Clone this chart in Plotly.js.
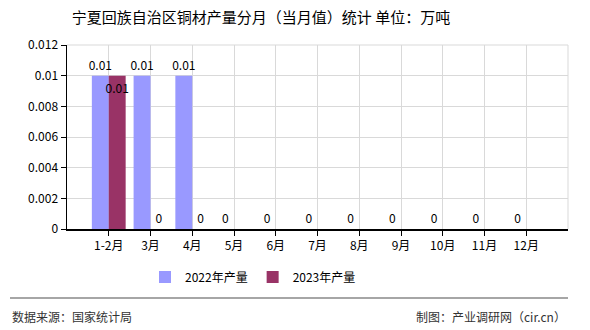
<!DOCTYPE html>
<html><head><meta charset="utf-8">
<script src="https://cdn.plot.ly/plotly-3.0.1.min.js"></script>
<style>html,body{margin:0;padding:0;background:#fff}#c{width:590px;height:330px}</style>
</head><body><div id="c"></div>
<script>
const categories = ['1-2月','3月','4月','5月','6月','7月','8月','9月','10月','11月','12月'];
const seriesNames = ['2022年产量','2023年产量'];
const values2022 = [0.01,0.01,0.01,0,0,0,0,0,0,0,0];
const values2023 = [0.01,0,0,null,null,null,null,null,null,null,null];
const yTicks = [0,0.002,0.004,0.006,0.008,0.01,0.012];
const yTickText = ['0','0.002','0.004','0.006','0.008','0.01','0.012'];

const F = '"Noto Sans CJK SC", "DejaVu Sans", sans-serif';
const lab = v => v === null ? '' : String(v);

const t1 = {
  type:'bar', name:seriesNames[0], x:categories, y:values2022,
  marker:{color:'#9999ff'}, text:values2022.map(lab), textposition:'outside', textangle:0,
  textfont:{family:F,size:12,color:'#000'}, cliponaxis:false, constraintext:'none'
};
const t2 = {
  type:'bar', name:seriesNames[1], x:categories, y:values2023,
  marker:{color:'#993366'}, text:values2023.map(lab),
  textposition:values2023.map(v => v ? 'inside' : 'outside'), textangle:0,
  insidetextanchor:'end',
  textfont:{family:F,size:12,color:'#000'},
  insidetextfont:{family:F,size:12,color:'#000'},
  outsidetextfont:{family:F,size:12,color:'#000'},
  cliponaxis:false, constraintext:'none'
};

const layout = {
  width:590, height:330,
  margin:{l:67,r:22,t:45,b:101},
  paper_bgcolor:'#fff', plot_bgcolor:'#fff',
  font:{family:F,size:12,color:'#000'},
  title:{text:'宁夏回族自治区铜材产量分月（当月值）统计 单位：万吨', x:261/590, xanchor:'center', xref:'container', y:1-18/330, yanchor:'middle', yref:'container', font:{family:F,size:15,color:'#000'}},
  barmode:'group', bargap:0.19, bargroupgap:0,
  showlegend:true,
  legend:{orientation:'h', x:253/590, xanchor:'center', xref:'container', y:1-277/330, yanchor:'middle', yref:'container', font:{family:F,size:12,color:'#000'}, itemwidth:30, tracegroupgap:0},
  xaxis:{type:'category', range:[-1,11], showgrid:true, gridcolor:'#d9d9d9', gridwidth:1,
    showline:true, linecolor:'#000', linewidth:1.5, ticks:'outside', ticklen:5, tickcolor:'#000',
    tickfont:{family:F,size:12,color:'#000'}, zeroline:false, fixedrange:true},
  yaxis:{range:[0,0.012], tickvals:yTicks, ticktext:yTickText, showgrid:true, gridcolor:'#d9d9d9', gridwidth:1,
    showline:true, linecolor:'#000', linewidth:1.5, ticks:'outside', ticklen:5, tickcolor:'#000',
    tickfont:{family:F,size:12,color:'#000'}, zeroline:false, fixedrange:true},
  shapes:[
    {type:'line', xref:'paper', yref:'paper', x0:1, x1:1, y0:0, y1:1, line:{color:'#d9d9d9', width:1}},
    {type:'line', xref:'paper', yref:'paper', x0:0, x1:1, y0:1, y1:1, line:{color:'#d9d9d9', width:1}},
    {type:'line', xref:'paper', yref:'paper', x0:-57/501, x1:1, y0:-69/184, y1:-69/184, line:{color:'#888', width:1.5}}
  ],
  annotations:[
    {text:'数据来源：国家统计局', xref:'paper', yref:'paper', x:-57/501, xanchor:'left', y:-87/184, yanchor:'middle', showarrow:false, font:{family:F,size:12,color:'#333'}},
    {text:'制图：产业调研网（cir.cn）', xref:'paper', yref:'paper', x:1, xanchor:'right', y:-87/184, yanchor:'middle', showarrow:false, font:{family:F,size:12,color:'#333'}}
  ]
};
Plotly.newPlot('c',[t1,t2],layout,{displayModeBar:false,staticPlot:true});
</script></body></html>
